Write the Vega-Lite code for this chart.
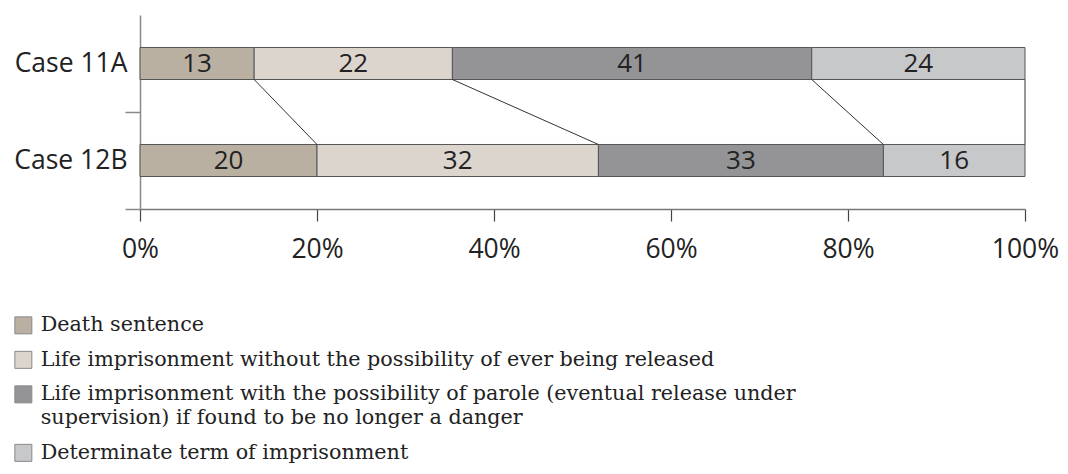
{
  "$schema": "https://vega.github.io/schema/vega-lite/v6.json",
  "width": 885,
  "height": 194,
  "autosize": {"type": "none"},
  "padding": {"left": 140, "top": 15, "right": 43, "bottom": 265},
  "background": "white",
  "config": {
    "view": {"stroke": null},
    "axis": {"grid": false},
    "style": {"guide-label": {"lineHeight": 24}}
  },
  "datasets": {
    "bars": [
      {"case": "Case 11A", "category": "Death sentence", "k": 1, "value": 12.9, "label": "13"},
      {"case": "Case 11A", "category": "Life imprisonment without the possibility of ever being released", "k": 2, "value": 22.4, "label": "22"},
      {"case": "Case 11A", "category": "Life imprisonment with the possibility of parole (eventual release under supervision) if found to be no longer a danger", "k": 3, "value": 40.6, "label": "41"},
      {"case": "Case 11A", "category": "Determinate term of imprisonment", "k": 4, "value": 24.1, "label": "24"},
      {"case": "Case 12B", "category": "Death sentence", "k": 1, "value": 20.0, "label": "20"},
      {"case": "Case 12B", "category": "Life imprisonment without the possibility of ever being released", "k": 2, "value": 31.8, "label": "32"},
      {"case": "Case 12B", "category": "Life imprisonment with the possibility of parole (eventual release under supervision) if found to be no longer a danger", "k": 3, "value": 32.2, "label": "33"},
      {"case": "Case 12B", "category": "Determinate term of imprisonment", "k": 4, "value": 16.0, "label": "16"}
    ],
    "links": [
      {"from": "Case 11A", "to": "Case 12B", "a": 12.9, "b": 20.0},
      {"from": "Case 11A", "to": "Case 12B", "a": 35.3, "b": 51.8},
      {"from": "Case 11A", "to": "Case 12B", "a": 75.9, "b": 84.0},
      {"from": "Case 11A", "to": "Case 12B", "a": 100, "b": 100}
    ]
  },
  "layer": [
    {
      "data": {"name": "bars"},
      "mark": {"type": "bar", "height": {"band": 0.33}, "stroke": "#555", "strokeWidth": 1},
      "encoding": {
        "y": {
          "field": "case", "type": "nominal", "title": null,
          "scale": {"paddingInner": 0, "paddingOuter": 0},
          "axis": {
            "domainColor": "#888", "domainWidth": 1.5, "tickColor": "#888", "tickWidth": 1.5,
            "tickSize": 15, "bandPosition": 1, "labelFont": "Open Sans", "labelFontSize": 26.5,
            "labelColor": "#222", "labelPadding": -2, "labelAlign": "right"
          }
        },
        "x": {
          "field": "value", "type": "quantitative", "stack": "zero", "title": null,
          "scale": {"domain": [0, 100], "nice": false},
          "axis": {
            "values": [0, 20, 40, 60, 80, 100], "labelExpr": "datum.value + '%'",
            "domainColor": "#777", "domainWidth": 1.5, "tickColor": "#444", "tickWidth": 1.2, "tickSize": 12,
            "labelFont": "Open Sans", "labelFontSize": 26.5, "labelColor": "#222", "labelPadding": 15,
            "labelFlush": false
          }
        },
        "color": {
          "field": "category", "type": "nominal",
          "scale": {
            "domain": [
              "Death sentence",
              "Life imprisonment without the possibility of ever being released",
              "Life imprisonment with the possibility of parole (eventual release under supervision) if found to be no longer a danger",
              "Determinate term of imprisonment"
            ],
            "range": ["#b9b0a2", "#dbd5ce", "#949497", "#c7c8ca"]
          },
          "legend": {
            "orient": "none", "legendX": -127, "legendY": 300, "title": null,
            "symbolType": "square", "symbolSize": 289, "symbolStrokeColor": "#888", "symbolStrokeWidth": 1,
            "labelFont": "DejaVu Serif", "labelFontSize": 20.7, "labelColor": "#222",
            "rowPadding": 12.5, "labelOffset": 7, "labelLimit": 1000,
            "labelExpr": "indexof(datum.label, 'parole') >= 0 ? ['Life imprisonment with the possibility of parole (eventual release under', 'supervision) if found to be no longer a danger'] : datum.label"
          }
        },
        "order": {"field": "k", "type": "quantitative"}
      }
    },
    {
      "data": {"name": "bars"},
      "mark": {"type": "text", "font": "Open Sans", "fontSize": 26, "color": "#222", "baseline": "middle"},
      "encoding": {
        "y": {"field": "case", "type": "nominal"},
        "x": {"field": "value", "type": "quantitative", "stack": "zero", "bandPosition": 0.5},
        "detail": {"field": "category", "type": "nominal"},
        "order": {"field": "k", "type": "quantitative"},
        "text": {"field": "label", "type": "nominal"}
      }
    },
    {
      "data": {"name": "links"},
      "mark": {"type": "rule", "color": "#333", "strokeWidth": 1},
      "encoding": {
        "y": {"field": "from", "type": "nominal", "bandPosition": 0.665},
        "y2": {"field": "to", "bandPosition": 0.335},
        "x": {"field": "a", "type": "quantitative"},
        "x2": {"field": "b"}
      }
    }
  ]
}
